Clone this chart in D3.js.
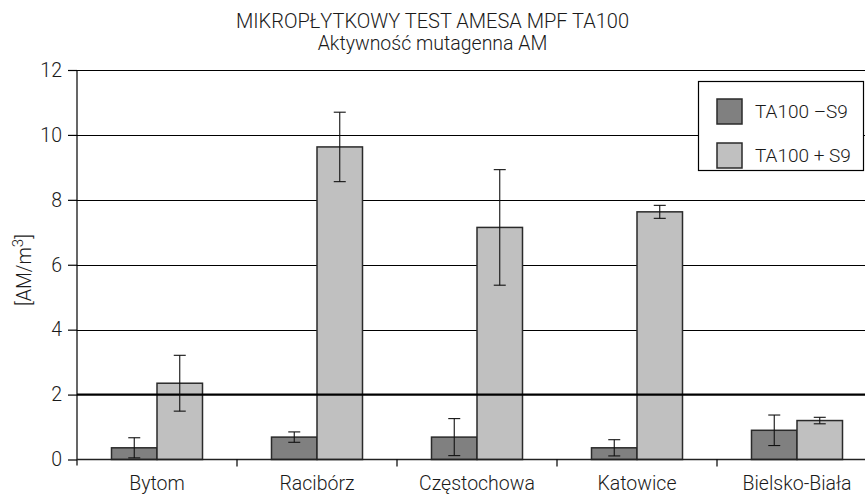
<!DOCTYPE html>
<html>
<head>
<meta charset="utf-8">
<script src="https://cdn.jsdelivr.net/npm/d3@7"></script>
<style>
  html, body { margin: 0; padding: 0; background: #fff; }
  svg { display: block; font-family: Roboto, "Liberation Sans", Arial, sans-serif; font-weight: 300; }
</style>
</head>
<body>
<svg id="chart" width="865" height="494"></svg>
<script>
// Sampling sites
const categories = ["Bytom", "Racibórz", "Częstochowa", "Katowice", "Bielsko-Biała"];
// Mutagenic activity, TA100 without and with metabolic activation
const seriesNames = ["TA100 \u2013S9", "TA100 + S9"];
const minusS9 = [0.36, 0.69, 0.69, 0.36, 0.90];
const minusS9Err = [0.31, 0.16, 0.57, 0.25, 0.47];
const plusS9 = [2.35, 9.63, 7.15, 7.63, 1.20];
const plusS9Err = [0.86, 1.07, 1.78, 0.20, 0.10];
const yTicks = [0, 2, 4, 6, 8, 10, 12];
const threshold = 2;

const svg = d3.select("#chart");
const plotLeft = 77, plotRight = 877, plotTop = 70, plotBottom = 459.5;
const fontFamily = "Roboto, 'Liberation Sans', Arial, sans-serif";
const textColor = "#1a1a1a";

const x = d3.scaleBand().domain(categories).range([plotLeft, plotRight]).paddingInner(0).paddingOuter(0);
const x1 = d3.scaleBand().domain([0, 1]).range([34.5, 125.5]).padding(0);
const y = d3.scaleLinear().domain([0, 12]).range([plotBottom, plotTop]);
const fills = ["#808080", "#c0c0c0"];

// Titles
svg.append("text").attr("x", 432.5).attr("y", 28).attr("text-anchor", "middle")
  .attr("font-size", 20).attr("fill", textColor).text("MIKROPŁYTKOWY TEST AMESA MPF TA100");
svg.append("text").attr("x", 432.5).attr("y", 50).attr("text-anchor", "middle")
  .attr("font-size", 19.5).attr("fill", textColor).text("Aktywność mutagenna AM");

// Horizontal grid lines
svg.append("g").selectAll("line").data(yTicks.filter(t => t > 0 && t !== threshold)).join("line")
  .attr("x1", plotLeft).attr("x2", 865).attr("y1", d => Math.round(y(d)) + 0.5).attr("y2", d => Math.round(y(d)) + 0.5)
  .attr("stroke", "#000").attr("stroke-width", 1.2);

// Bars
const data = categories.map((c, i) => [
  { c, k: 0, v: minusS9[i], e: minusS9Err[i] },
  { c, k: 1, v: plusS9[i], e: plusS9Err[i] }
]).flat();

svg.append("g").selectAll("rect").data(data).join("rect")
  .attr("x", d => x(d.c) + x1(d.k))
  .attr("width", x1.bandwidth())
  .attr("y", d => y(d.v))
  .attr("height", d => y(0) - y(d.v))
  .attr("fill", d => fills[d.k])
  .attr("stroke", "#2a2a2a").attr("stroke-width", 1.5);

// Threshold line drawn over the bars
svg.append("line").attr("x1", plotLeft).attr("x2", 865)
  .attr("y1", y(threshold)).attr("y2", y(threshold))
  .attr("stroke", "#000").attr("stroke-width", 2.4);

// Error bars
const eb = svg.append("g").attr("stroke", "#111").attr("stroke-width", 1.1);
data.forEach(d => {
  const cx = x(d.c) + x1(d.k) + x1.bandwidth() / 2;
  const y1 = y(d.v + d.e), y2 = y(d.v - d.e);
  eb.append("line").attr("x1", cx).attr("x2", cx).attr("y1", y1).attr("y2", y2);
  eb.append("line").attr("x1", cx - 6).attr("x2", cx + 6).attr("y1", y1).attr("y2", y1);
  eb.append("line").attr("x1", cx - 6).attr("x2", cx + 6).attr("y1", y2).attr("y2", y2);
});

// Y axis
const yAxis = svg.append("g").attr("transform", `translate(${plotLeft},0)`)
  .call(d3.axisLeft(y).tickValues(yTicks).tickSize(9).tickPadding(6).tickFormat(d3.format("d")));
yAxis.select(".domain").remove();
yAxis.append("line").attr("x1", 0).attr("x2", 0).attr("y1", plotTop).attr("y2", plotBottom + 6)
  .attr("stroke", "#000").attr("stroke-width", 1.2);
yAxis.selectAll(".tick line").attr("stroke", "#000").attr("stroke-width", 1.2);
yAxis.selectAll(".tick text").attr("font-size", 19.5).attr("fill", textColor)
  .attr("font-family", fontFamily).attr("font-weight", 300);

// X axis
const xAxis = svg.append("g").attr("transform", `translate(0,${plotBottom})`)
  .call(d3.axisBottom(x).tickSize(0).tickPadding(17));
xAxis.select(".domain").remove();
xAxis.append("line").attr("x1", plotLeft).attr("x2", 865).attr("y1", 0).attr("y2", 0)
  .attr("stroke", "#222").attr("stroke-width", 1.3);
xAxis.selectAll(".boundary").data(categories.slice(1)).join("line")
  .attr("x1", d => x(d)).attr("x2", d => x(d)).attr("y1", 0).attr("y2", 7)
  .attr("stroke", "#000").attr("stroke-width", 1.2);
xAxis.selectAll(".tick text").attr("font-size", 19.5).attr("fill", textColor)
  .attr("font-family", fontFamily).attr("font-weight", 300);

// Y axis title
svg.append("text").attr("transform", "translate(31,270) rotate(-90)")
  .attr("text-anchor", "middle").attr("font-size", 19.5).attr("fill", textColor)
  .call(t => {
    t.append("tspan").text("[AM/m");
    t.append("tspan").attr("dy", -8).attr("font-size", 15).text("3");
    t.append("tspan").attr("dy", 8).text("]");
  });

// Legend
const lg = svg.append("g");
lg.append("rect").attr("x", 698.5).attr("y", 81.5).attr("width", 165).attr("height", 89)
  .attr("fill", "#fff").attr("stroke", "#000").attr("stroke-width", 1.2);
seriesNames.forEach((name, i) => {
  const yy = 99 + i * 44;
  lg.append("rect").attr("x", 717).attr("y", yy).attr("width", 25).attr("height", 25)
    .attr("fill", fills[i]).attr("stroke", "#2a2a2a").attr("stroke-width", 1.5);
  lg.append("text").attr("x", 755).attr("y", yy + 19).attr("font-size", 19).attr("fill", textColor)
    .text(name);
});
</script>
</body>
</html>
